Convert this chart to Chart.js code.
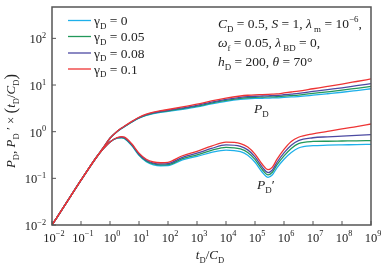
<!DOCTYPE html>
<html>
<head>
<meta charset="utf-8">
<script src="https://cdn.jsdelivr.net/npm/chart.js@4.4.1/dist/chart.umd.min.js"></script>
<style>
    html, body { margin: 0; padding: 0; background: #fff; }
</style>
</head>
<body>
<canvas id="c" width="386" height="269"></canvas>
<script>
// ===============================
// Data
// ===============================

const tD = [0.01, 0.0316, 0.1, 0.316, 0.562, 1, 1.78, 2.51, 3.16, 5.62, 10, 17.8, 31.6, 56.2, 100, 316,
    1e3, 3.16e3, 1e4, 3.16e4, 5.62e4, 1e5, 1.78e5, 2.82e5, 3.98e5, 5.62e5, 1e6, 1.78e6, 3.16e6,
    1e7, 3.16e7, 1e8, 3.16e8, 1e9];

// P_D
const pdG0 = [0.01, 0.0302, 0.0912, 0.269, 0.437, 0.724, 1.01, 1.17, 1.28, 1.60, 1.94, 2.23, 2.44, 2.59, 2.71, 3.01,
    3.39, 3.93, 4.47, 4.92, 5.07, 5.16, 5.21, 5.25, 5.28, 5.30, 5.43, 5.55, 5.66, 6.05, 6.50, 7.00, 7.62, 8.32];
const pdG005 = [0.01, 0.0302, 0.0912, 0.269, 0.437, 0.724, 1.01, 1.18, 1.29, 1.61, 1.97, 2.26, 2.49, 2.65, 2.79, 3.11,
    3.52, 4.10, 4.68, 5.16, 5.33, 5.44, 5.50, 5.55, 5.58, 5.61, 5.78, 5.94, 6.10, 6.61, 7.16, 7.76, 8.51, 9.33];
const pdG008 = [0.01, 0.0302, 0.0912, 0.269, 0.437, 0.724, 1.02, 1.19, 1.30, 1.63, 2.00, 2.31, 2.55, 2.72, 2.86, 3.22,
    3.67, 4.30, 4.92, 5.44, 5.62, 5.75, 5.81, 5.86, 5.92, 5.96, 6.19, 6.41, 6.64, 7.28, 7.98, 8.73, 9.66, 10.7];
const pdG01 = [0.01, 0.0302, 0.0912, 0.269, 0.437, 0.724, 1.02, 1.20, 1.32, 1.66, 2.04, 2.37, 2.63, 2.82, 2.99, 3.39,
    3.89, 4.57, 5.25, 5.82, 6.03, 6.17, 6.24, 6.31, 6.38, 6.46, 6.76, 7.08, 7.41, 8.32, 9.33, 10.5, 11.9, 13.5];

// P_D' x (t_D/C_D)
const dpdG0 = [0.01, 0.0302, 0.0912, 0.263, 0.417, 0.603, 0.724, 0.733, 0.711, 0.501, 0.310, 0.226, 0.195, 0.186, 0.187, 0.248,
    0.295, 0.359, 0.403, 0.372, 0.313, 0.221, 0.135, 0.105, 0.119, 0.166, 0.257, 0.359, 0.447, 0.501, 0.513, 0.521, 0.528, 0.537];
const dpdG005 = [0.01, 0.0302, 0.0912, 0.263, 0.417, 0.603, 0.733, 0.750, 0.729, 0.515, 0.321, 0.236, 0.204, 0.195, 0.197, 0.264,
    0.318, 0.398, 0.462, 0.427, 0.359, 0.254, 0.155, 0.119, 0.135, 0.191, 0.302, 0.437, 0.556, 0.617, 0.624, 0.631, 0.638, 0.646];
const dpdG008 = [0.01, 0.0302, 0.0912, 0.263, 0.417, 0.603, 0.741, 0.767, 0.746, 0.531, 0.333, 0.245, 0.213, 0.204, 0.207, 0.282,
    0.345, 0.437, 0.521, 0.484, 0.407, 0.288, 0.174, 0.133, 0.151, 0.216, 0.351, 0.513, 0.646, 0.741, 0.776, 0.804, 0.832, 0.861];
const dpdG01 = [0.01, 0.0302, 0.0912, 0.263, 0.417, 0.603, 0.750, 0.785, 0.767, 0.550, 0.347, 0.257, 0.224, 0.216, 0.221, 0.305,
    0.380, 0.490, 0.596, 0.556, 0.468, 0.331, 0.200, 0.153, 0.174, 0.251, 0.417, 0.617, 0.759, 0.902, 1.01, 1.15, 1.29, 1.46];

const gammaLabels = ["0", "0.05", "0.08", "0.1"];
const xTicks = [1e-2, 1e-1, 1, 1e1, 1e2, 1e3, 1e4, 1e5, 1e6, 1e7, 1e8, 1e9];
const xTickExp = ["\u22122", "\u22121", "0", "1", "2", "3", "4", "5", "6", "7", "8", "9"];
const yTicks = [1e-2, 1e-1, 1, 1e1, 1e2];
const yTickExp = ["\u22122", "\u22121", "0", "1", "2"];

const colors = ["#1eb0ea", "#22985a", "#4c4aa2", "#ee3434"];

// ===============================
// Rich text helper (italic / sub / sup)
// ===============================

const SERIF = '"Liberation Serif", "Times New Roman", serif';

function rich(ctx, x, y, segs, size, align) {
    const parts = segs.map(([t, k]) => {
        const small = k === "sub" || k === "subi" || k === "sup";
        const fs = small ? size * 0.66 : (k === "big" ? size * 1.3 : size);
        const it = k === "i" || k === "subi";
        const font = (it ? "italic " : "") + fs + "px " + SERIF;
        ctx.font = font;
        const dy = (k === "sub" || k === "subi") ? size * 0.28 : (k === "sup" ? -size * 0.42 : (k === "big" ? size * 0.08 : 0));
        return { t, font, dy, w: ctx.measureText(t).width };
    });
    const total = parts.reduce((s, p) => s + p.w, 0);
    let cx = align === "center" ? x - total / 2 : (align === "right" ? x - total : x);
    parts.forEach(p => {
        ctx.font = p.font;
        ctx.fillText(p.t, cx, y + p.dy);
        cx += p.w;
    });
}

const decorPlugin = {
    id: "decor",
    afterDraw(chart) {
        const { ctx, chartArea: a, scales } = chart;
        ctx.save();
        ctx.fillStyle = "#222";
        ctx.textBaseline = "alphabetic";

        // frame
        ctx.strokeStyle = "#555";
        ctx.lineWidth = 1.5;
        ctx.strokeRect(a.left, a.top, a.right - a.left, a.bottom - a.top);

        // inner ticks + labels
        ctx.lineWidth = 1;
        xTicks.forEach((v, i) => {
            const px = scales.x.getPixelForValue(v);
            ctx.beginPath();
            ctx.moveTo(px, a.bottom);
            ctx.lineTo(px, a.bottom - 4);
            ctx.stroke();
            rich(ctx, px + 2, a.bottom + 16.5, [["10", "n"], [xTickExp[i], "sup"]], 12.5, "center");
        });
        yTicks.forEach((v, i) => {
            const py = scales.y.getPixelForValue(v);
            ctx.beginPath();
            ctx.moveTo(a.left, py);
            ctx.lineTo(a.left + 4, py);
            ctx.stroke();
            rich(ctx, a.left - 6, py + 5, [["10", "n"], [yTickExp[i], "sup"]], 12.5, "right");
        });

        // axis titles
        rich(ctx, 210, 259, [["t", "i"], ["D", "sub"], ["/", "n"], ["C", "i"], ["D", "sub"]], 13, "center");
        ctx.save();
        ctx.translate(15, 121);
        ctx.rotate(-Math.PI / 2);
        rich(ctx, 0, 0, [["P", "i"], ["D", "sub"], [", ", "n"], ["P", "i"], ["D", "sub"], [" \u2032 \u00d7 ", "n"],
            ["(", "big"], ["t", "i"], ["D", "sub"], ["/", "n"], ["C", "i"], ["D", "sub"], [")", "big"]], 13, "center");
        ctx.restore();

        // legend
        colors.forEach((c, i) => {
            const ly = [20.5, 36.5, 53, 69][i];
            ctx.strokeStyle = c;
            ctx.lineWidth = 1.3;
            ctx.beginPath();
            ctx.moveTo(68, ly);
            ctx.lineTo(91, ly);
            ctx.stroke();
            rich(ctx, 94, ly + 4.5, [["\u03b3", "n"], ["D", "sub"], [" = " + gammaLabels[i], "n"]], 13.5, "left");
        });

        // parameter note
        rich(ctx, 218, 28, [["C", "i"], ["D", "sub"], [" = 0.5, ", "n"], ["S", "i"], [" = 1, ", "n"], ["\u03bb", "i"],
            [" m", "sub"], [" = 10", "n"], ["\u22126", "sup"], [",", "n"]], 13.5, "left");
        rich(ctx, 218, 47, [["\u03c9", "i"], ["f", "sub"], [" = 0.05, ", "n"], ["\u03bb", "i"], [" BD", "sub"],
            [" = 0,", "n"]], 13.5, "left");
        rich(ctx, 218, 66, [["h", "i"], ["D", "sub"], [" = 200, ", "n"], ["\u03b8", "i"], [" = 70\u00b0", "n"]], 13.5, "left");

        // curve labels
        rich(ctx, 254, 113, [["P", "i"], ["D", "sub"]], 13.5, "left");
        rich(ctx, 257, 189, [["P", "i"], ["D", "sub"], ["\u2032", "n"]], 13.5, "left");

        ctx.restore();
    }
};

// ===============================
// Datasets
// ===============================

const pdSeries = [pdG0, pdG005, pdG008, pdG01];
const dpdSeries = [dpdG0, dpdG005, dpdG008, dpdG01];

const datasets = [];
pdSeries.forEach((arr, i) => {
    datasets.push({
        label: "P_D, gamma_D = " + gammaLabels[i],
        data: tD.map((t, j) => ({ x: t, y: arr[j] })),
        borderColor: colors[i],
        order: 3 - i
    });
});
dpdSeries.forEach((arr, i) => {
    datasets.push({
        label: "P_D', gamma_D = " + gammaLabels[i],
        data: tD.map((t, j) => ({ x: t, y: arr[j] })),
        borderColor: colors[i],
        order: 3 - i
    });
});

datasets.forEach(d => {
    d.borderWidth = 1.3;
    d.pointRadius = 0;
    d.fill = false;
    d.cubicInterpolationMode = "monotone";
});

new Chart(document.getElementById("c"), {
    type: "line",
    data: { datasets },
    options: {
        responsive: false,
        animation: false,
        layout: { padding: { left: 52, right: 15, top: 7, bottom: 44 } },
        plugins: {
            legend: { display: false },
            tooltip: { enabled: false }
        },
        scales: {
            x: { type: "logarithmic", min: 1e-2, max: 1e9, display: false },
            y: { type: "logarithmic", min: 1e-2, max: 470, display: false }
        }
    },
    plugins: [decorPlugin]
});
</script>
</body>
</html>
